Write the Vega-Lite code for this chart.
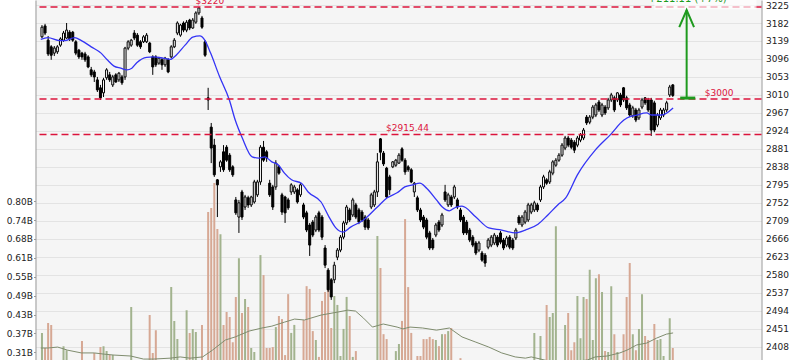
{
"$schema":"https://vega.github.io/schema/vega-lite/v6.json",
"width":726,"height":360,
"autosize":{"type":"none"},
"padding":{"left":35.5,"right":38.5,"top":0,"bottom":0},
"background":"#ffffff",
"config":{"view":{"fill":"#f5f5f5","stroke":null},"font":"DejaVu Sans","axis":{"labelFont":"DejaVu Sans","labelFontSize":9,"labelColor":"#222222","title":null,"labelOverlap":false}},
"datasets":{
"k":[
{"i":0,"o":3149,"h":3177,"l":3146,"c":3172,"v":0.370},
{"i":1,"o":3175,"h":3180,"l":3153,"c":3158,"v":0.321},
{"i":2,"o":3141,"h":3151,"l":3103,"c":3108,"v":0.402},
{"i":3,"o":3125,"h":3129,"l":3094,"c":3105,"v":0.396},
{"i":4,"o":3110,"h":3127,"l":3103,"c":3122,"v":0.26},
{"i":5,"o":3113,"h":3129,"l":3108,"c":3125,"v":0.26},
{"i":6,"o":3129,"h":3148,"l":3125,"c":3144,"v":0.26},
{"i":7,"o":3141,"h":3163,"l":3137,"c":3158,"v":0.327},
{"i":8,"o":3146,"h":3182,"l":3144,"c":3165,"v":0.314},
{"i":9,"o":3160,"h":3165,"l":3139,"c":3144,"v":0.26},
{"i":10,"o":3160,"h":3163,"l":3137,"c":3141,"v":0.26},
{"i":11,"o":3137,"h":3141,"l":3105,"c":3110,"v":0.26},
{"i":12,"o":3117,"h":3120,"l":3096,"c":3101,"v":0.26},
{"i":13,"o":3110,"h":3113,"l":3094,"c":3101,"v":0.344},
{"i":14,"o":3108,"h":3113,"l":3089,"c":3094,"v":0.26},
{"i":15,"o":3101,"h":3105,"l":3074,"c":3077,"v":0.26},
{"i":16,"o":3070,"h":3077,"l":3053,"c":3058,"v":0.26},
{"i":17,"o":3065,"h":3070,"l":3041,"c":3053,"v":0.305},
{"i":18,"o":3046,"h":3053,"l":3017,"c":3022,"v":0.26},
{"i":19,"o":3027,"h":3034,"l":2998,"c":3003,"v":0.324},
{"i":20,"o":3015,"h":3051,"l":3005,"c":3046,"v":0.327},
{"i":21,"o":3051,"h":3074,"l":3046,"c":3070,"v":0.311},
{"i":22,"o":3058,"h":3065,"l":3041,"c":3046,"v":0.298},
{"i":23,"o":3034,"h":3058,"l":3029,"c":3053,"v":0.298},
{"i":24,"o":3058,"h":3062,"l":3039,"c":3041,"v":0.26},
{"i":25,"o":3046,"h":3065,"l":3041,"c":3062,"v":0.26},
{"i":26,"o":3053,"h":3058,"l":3034,"c":3039,"v":0.26},
{"i":27,"o":3053,"h":3125,"l":3046,"c":3122,"v":0.26},
{"i":28,"o":3122,"h":3141,"l":3117,"c":3137,"v":0.26},
{"i":29,"o":3129,"h":3144,"l":3125,"c":3141,"v":0.454},
{"i":30,"o":3158,"h":3165,"l":3141,"c":3146,"v":0.26},
{"i":31,"o":3153,"h":3158,"l":3125,"c":3129,"v":0.26},
{"i":32,"o":3137,"h":3141,"l":3120,"c":3125,"v":0.26},
{"i":33,"o":3137,"h":3153,"l":3134,"c":3149,"v":0.26},
{"i":34,"o":3137,"h":3158,"l":3134,"c":3153,"v":0.26},
{"i":35,"o":3134,"h":3137,"l":3110,"c":3113,"v":0.428},
{"i":36,"o":3101,"h":3105,"l":3058,"c":3077,"v":0.305},
{"i":37,"o":3101,"h":3105,"l":3077,"c":3082,"v":0.379},
{"i":38,"o":3086,"h":3101,"l":3082,"c":3098,"v":0.26},
{"i":39,"o":3094,"h":3098,"l":3070,"c":3082,"v":0.26},
{"i":40,"o":3082,"h":3101,"l":3077,"c":3098,"v":0.26},
{"i":41,"o":3094,"h":3098,"l":3062,"c":3065,"v":0.26},
{"i":42,"o":3101,"h":3129,"l":3098,"c":3125,"v":0.519},
{"i":43,"o":3125,"h":3146,"l":3122,"c":3141,"v":0.409},
{"i":44,"o":3158,"h":3186,"l":3153,"c":3182,"v":0.350},
{"i":45,"o":3153,"h":3180,"l":3149,"c":3177,"v":0.26},
{"i":46,"o":3182,"h":3186,"l":3160,"c":3165,"v":0.26},
{"i":47,"o":3165,"h":3189,"l":3160,"c":3184,"v":0.444},
{"i":48,"o":3189,"h":3192,"l":3165,"c":3170,"v":0.370},
{"i":49,"o":3170,"h":3194,"l":3168,"c":3189,"v":0.383},
{"i":50,"o":3184,"h":3210,"l":3180,"c":3206,"v":0.373},
{"i":51,"o":3206,"h":3220,"l":3201,"c":3218,"v":0.26},
{"i":52,"o":3194,"h":3199,"l":3168,"c":3172,"v":0.396},
{"i":53,"o":3137,"h":3141,"l":3101,"c":3105,"v":0.26},
{"i":54,"o":3003,"h":3027,"l":2974,"c":2998,"v":0.763},
{"i":55,"o":2933,"h":2943,"l":2847,"c":2883,"v":0.776},
{"i":56,"o":2890,"h":2905,"l":2814,"c":2819,"v":0.857},
{"i":57,"o":2807,"h":2809,"l":2718,"c":2795,"v":0.708},
{"i":58,"o":2838,"h":2854,"l":2826,"c":2850,"v":0.691},
{"i":59,"o":2874,"h":2890,"l":2826,"c":2831,"v":0.396},
{"i":60,"o":2885,"h":2890,"l":2850,"c":2854,"v":0.438},
{"i":61,"o":2866,"h":2871,"l":2826,"c":2831,"v":0.422},
{"i":62,"o":2838,"h":2842,"l":2814,"c":2819,"v":0.340},
{"i":63,"o":2759,"h":2766,"l":2723,"c":2728,"v":0.487},
{"i":64,"o":2718,"h":2759,"l":2680,"c":2752,"v":0.613},
{"i":65,"o":2778,"h":2783,"l":2711,"c":2718,"v":0.435},
{"i":66,"o":2742,"h":2771,"l":2735,"c":2766,"v":0.480},
{"i":67,"o":2764,"h":2769,"l":2740,"c":2747,"v":0.454},
{"i":68,"o":2747,"h":2769,"l":2742,"c":2766,"v":0.321},
{"i":69,"o":2754,"h":2807,"l":2750,"c":2802,"v":0.308},
{"i":70,"o":2771,"h":2807,"l":2766,"c":2802,"v":0.26},
{"i":71,"o":2802,"h":2890,"l":2795,"c":2885,"v":0.623},
{"i":72,"o":2885,"h":2900,"l":2850,"c":2854,"v":0.558},
{"i":73,"o":2874,"h":2878,"l":2850,"c":2859,"v":0.321},
{"i":74,"o":2799,"h":2807,"l":2766,"c":2771,"v":0.321},
{"i":75,"o":2790,"h":2795,"l":2735,"c":2742,"v":0.324},
{"i":76,"o":2790,"h":2854,"l":2783,"c":2847,"v":0.389},
{"i":77,"o":2838,"h":2842,"l":2819,"c":2823,"v":0.425},
{"i":78,"o":2771,"h":2776,"l":2723,"c":2730,"v":0.415},
{"i":79,"o":2766,"h":2769,"l":2704,"c":2728,"v":0.298},
{"i":80,"o":2759,"h":2764,"l":2735,"c":2740,"v":0.496},
{"i":81,"o":2778,"h":2799,"l":2771,"c":2795,"v":0.370},
{"i":82,"o":2778,"h":2795,"l":2773,"c":2790,"v":0.396},
{"i":83,"o":2783,"h":2787,"l":2750,"c":2754,"v":0.26},
{"i":84,"o":2771,"h":2799,"l":2766,"c":2795,"v":0.26},
{"i":85,"o":2747,"h":2752,"l":2713,"c":2718,"v":0.412},
{"i":86,"o":2728,"h":2733,"l":2682,"c":2687,"v":0.522},
{"i":87,"o":2699,"h":2704,"l":2625,"c":2651,"v":0.513},
{"i":88,"o":2706,"h":2711,"l":2670,"c":2675,"v":0.376},
{"i":89,"o":2687,"h":2723,"l":2682,"c":2718,"v":0.347},
{"i":90,"o":2728,"h":2733,"l":2682,"c":2687,"v":0.292},
{"i":91,"o":2718,"h":2723,"l":2663,"c":2670,"v":0.474},
{"i":92,"o":2644,"h":2651,"l":2596,"c":2603,"v":0.503},
{"i":93,"o":2591,"h":2596,"l":2539,"c":2544,"v":0.565},
{"i":94,"o":2568,"h":2572,"l":2520,"c":2527,"v":0.386},
{"i":95,"o":2568,"h":2611,"l":2560,"c":2603,"v":0.490},
{"i":96,"o":2622,"h":2644,"l":2615,"c":2639,"v":0.461},
{"i":97,"o":2639,"h":2675,"l":2634,"c":2670,"v":0.295},
{"i":98,"o":2670,"h":2709,"l":2665,"c":2704,"v":0.383},
{"i":99,"o":2704,"h":2747,"l":2699,"c":2742,"v":0.487},
{"i":100,"o":2735,"h":2740,"l":2706,"c":2711,"v":0.425},
{"i":101,"o":2723,"h":2764,"l":2718,"c":2759,"v":0.292},
{"i":102,"o":2747,"h":2752,"l":2713,"c":2718,"v":0.311},
{"i":103,"o":2735,"h":2740,"l":2701,"c":2706,"v":0.26},
{"i":104,"o":2730,"h":2735,"l":2706,"c":2711,"v":0.26},
{"i":105,"o":2718,"h":2723,"l":2687,"c":2694,"v":0.26},
{"i":106,"o":2711,"h":2716,"l":2687,"c":2692,"v":0.26},
{"i":107,"o":2742,"h":2776,"l":2737,"c":2771,"v":0.26},
{"i":108,"o":2747,"h":2783,"l":2742,"c":2778,"v":0.26},
{"i":109,"o":2778,"h":2871,"l":2766,"c":2850,"v":0.685},
{"i":110,"o":2905,"h":2907,"l":2854,"c":2873,"v":0.581},
{"i":111,"o":2871,"h":2876,"l":2840,"c":2845,"v":0.366},
{"i":112,"o":2835,"h":2838,"l":2764,"c":2766,"v":0.350},
{"i":113,"o":2814,"h":2819,"l":2771,"c":2783,"v":0.26},
{"i":114,"o":2838,"h":2852,"l":2835,"c":2850,"v":0.26},
{"i":115,"o":2842,"h":2857,"l":2838,"c":2854,"v":0.311},
{"i":116,"o":2847,"h":2871,"l":2845,"c":2866,"v":0.334},
{"i":117,"o":2881,"h":2885,"l":2850,"c":2854,"v":0.409},
{"i":118,"o":2854,"h":2859,"l":2819,"c":2826,"v":0.740},
{"i":119,"o":2838,"h":2842,"l":2826,"c":2831,"v":0.519},
{"i":120,"o":2831,"h":2835,"l":2799,"c":2802,"v":0.370},
{"i":121,"o":2778,"h":2802,"l":2766,"c":2799,"v":0.26},
{"i":122,"o":2764,"h":2769,"l":2730,"c":2735,"v":0.295},
{"i":123,"o":2735,"h":2740,"l":2706,"c":2711,"v":0.295},
{"i":124,"o":2718,"h":2723,"l":2689,"c":2694,"v":0.350},
{"i":125,"o":2711,"h":2716,"l":2665,"c":2670,"v":0.350},
{"i":126,"o":2680,"h":2685,"l":2639,"c":2644,"v":0.357},
{"i":127,"o":2663,"h":2668,"l":2639,"c":2644,"v":0.350},
{"i":128,"o":2675,"h":2704,"l":2670,"c":2699,"v":0.347},
{"i":129,"o":2706,"h":2711,"l":2682,"c":2687,"v":0.327},
{"i":130,"o":2699,"h":2728,"l":2694,"c":2723,"v":0.366},
{"i":131,"o":2778,"h":2795,"l":2754,"c":2759,"v":0.366},
{"i":132,"o":2747,"h":2776,"l":2742,"c":2771,"v":0.376},
{"i":133,"o":2766,"h":2771,"l":2742,"c":2747,"v":0.386},
{"i":134,"o":2766,"h":2795,"l":2761,"c":2790,"v":0.26},
{"i":135,"o":2759,"h":2764,"l":2737,"c":2742,"v":0.26},
{"i":136,"o":2735,"h":2740,"l":2706,"c":2711,"v":0.288},
{"i":137,"o":2718,"h":2723,"l":2675,"c":2680,"v":0.26},
{"i":138,"o":2706,"h":2711,"l":2675,"c":2680,"v":0.26},
{"i":139,"o":2687,"h":2692,"l":2658,"c":2663,"v":0.26},
{"i":140,"o":2670,"h":2675,"l":2646,"c":2651,"v":0.26},
{"i":141,"o":2656,"h":2661,"l":2627,"c":2632,"v":0.26},
{"i":142,"o":2639,"h":2661,"l":2634,"c":2656,"v":0.26},
{"i":143,"o":2632,"h":2637,"l":2611,"c":2615,"v":0.26},
{"i":144,"o":2627,"h":2632,"l":2599,"c":2608,"v":0.26},
{"i":145,"o":2646,"h":2668,"l":2641,"c":2663,"v":0.26},
{"i":146,"o":2651,"h":2675,"l":2646,"c":2670,"v":0.26},
{"i":147,"o":2656,"h":2680,"l":2651,"c":2675,"v":0.26},
{"i":148,"o":2670,"h":2675,"l":2646,"c":2651,"v":0.26},
{"i":149,"o":2680,"h":2685,"l":2653,"c":2658,"v":0.26},
{"i":150,"o":2663,"h":2668,"l":2639,"c":2644,"v":0.26},
{"i":151,"o":2651,"h":2673,"l":2646,"c":2668,"v":0.26},
{"i":152,"o":2670,"h":2675,"l":2641,"c":2646,"v":0.26},
{"i":153,"o":2663,"h":2668,"l":2639,"c":2644,"v":0.26},
{"i":154,"o":2668,"h":2692,"l":2663,"c":2687,"v":0.26},
{"i":155,"o":2718,"h":2723,"l":2699,"c":2704,"v":0.26},
{"i":156,"o":2699,"h":2723,"l":2694,"c":2718,"v":0.26},
{"i":157,"o":2706,"h":2735,"l":2701,"c":2730,"v":0.26},
{"i":158,"o":2711,"h":2752,"l":2706,"c":2747,"v":0.26},
{"i":159,"o":2730,"h":2752,"l":2725,"c":2747,"v":0.26},
{"i":160,"o":2735,"h":2757,"l":2730,"c":2752,"v":0.370},
{"i":161,"o":2747,"h":2752,"l":2730,"c":2735,"v":0.26},
{"i":162,"o":2759,"h":2795,"l":2754,"c":2790,"v":0.360},
{"i":163,"o":2790,"h":2819,"l":2785,"c":2814,"v":0.26},
{"i":164,"o":2807,"h":2811,"l":2795,"c":2799,"v":0.461},
{"i":165,"o":2802,"h":2831,"l":2797,"c":2826,"v":0.422},
{"i":166,"o":2823,"h":2854,"l":2818,"c":2850,"v":0.435},
{"i":167,"o":2842,"h":2859,"l":2838,"c":2854,"v":0.717},
{"i":168,"o":2854,"h":2871,"l":2850,"c":2866,"v":0.26},
{"i":169,"o":2866,"h":2895,"l":2862,"c":2890,"v":0.26},
{"i":170,"o":2883,"h":2912,"l":2878,"c":2907,"v":0.396},
{"i":171,"o":2907,"h":2912,"l":2885,"c":2890,"v":0.435},
{"i":172,"o":2902,"h":2907,"l":2880,"c":2885,"v":0.314},
{"i":173,"o":2897,"h":2902,"l":2871,"c":2878,"v":0.340},
{"i":174,"o":2890,"h":2912,"l":2885,"c":2907,"v":0.490},
{"i":175,"o":2902,"h":2919,"l":2897,"c":2914,"v":0.353},
{"i":176,"o":2907,"h":2931,"l":2902,"c":2926,"v":0.487},
{"i":177,"o":2957,"h":2962,"l":2938,"c":2943,"v":0.480},
{"i":178,"o":2945,"h":2962,"l":2940,"c":2957,"v":0.575},
{"i":179,"o":2957,"h":2986,"l":2952,"c":2981,"v":0.347},
{"i":180,"o":2962,"h":2991,"l":2957,"c":2986,"v":0.548},
{"i":181,"o":2993,"h":2998,"l":2969,"c":2974,"v":0.561},
{"i":182,"o":2962,"h":2991,"l":2957,"c":2986,"v":0.503},
{"i":183,"o":2981,"h":2986,"l":2962,"c":2967,"v":0.311},
{"i":184,"o":2979,"h":3003,"l":2974,"c":2998,"v":0.308},
{"i":185,"o":2998,"h":3015,"l":2993,"c":3010,"v":0.522},
{"i":186,"o":3003,"h":3008,"l":2969,"c":2974,"v":0.366},
{"i":187,"o":2998,"h":3017,"l":2993,"c":3015,"v":0.308},
{"i":188,"o":3010,"h":3015,"l":2981,"c":2986,"v":0.26},
{"i":189,"o":3027,"h":3029,"l":2993,"c":2998,"v":0.366},
{"i":190,"o":3003,"h":3008,"l":2974,"c":2979,"v":0.487},
{"i":191,"o":2986,"h":2991,"l":2957,"c":2962,"v":0.597},
{"i":192,"o":2960,"h":2984,"l":2955,"c":2979,"v":0.366},
{"i":193,"o":2974,"h":2979,"l":2945,"c":2950,"v":0.314},
{"i":194,"o":2955,"h":2979,"l":2950,"c":2974,"v":0.383},
{"i":195,"o":2981,"h":3003,"l":2976,"c":2998,"v":0.496},
{"i":196,"o":3003,"h":3005,"l":2986,"c":2991,"v":0.360},
{"i":197,"o":2998,"h":3003,"l":2969,"c":2974,"v":0.347},
{"i":198,"o":2998,"h":3003,"l":2912,"c":2926,"v":0.26},
{"i":199,"o":2991,"h":2996,"l":2921,"c":2926,"v":0.399},
{"i":200,"o":2938,"h":2967,"l":2933,"c":2962,"v":0.347},
{"i":201,"o":2955,"h":2979,"l":2950,"c":2974,"v":0.350},
{"i":202,"o":2962,"h":2979,"l":2957,"c":2974,"v":0.295},
{"i":203,"o":2974,"h":2996,"l":2969,"c":2991,"v":0.26},
{"i":204,"o":3010,"h":3034,"l":3005,"c":3029,"v":0.418},
{"i":205,"o":3034,"h":3036,"l":3005,"c":3008.89,"v":0.321}
],
"ma":[
{"i":-0.4,"p":3143},{"i":1.9,"p":3147},{"i":5.8,"p":3140},{"i":7.4,"p":3140},{"i":10.6,"p":3147},{"i":12.8,"p":3140},{"i":16.0,"p":3125},{"i":19.2,"p":3110},{"i":21.2,"p":3094},{"i":23.4,"p":3079},{"i":25.6,"p":3074},{"i":27.6,"p":3070},{"i":29.2,"p":3074},{"i":30.8,"p":3087},{"i":34.0,"p":3100},{"i":36.2,"p":3101},{"i":39.4,"p":3098},{"i":41.7,"p":3095},{"i":43.6,"p":3105},{"i":46.5,"p":3129},{"i":49.0,"p":3148},{"i":51.3,"p":3151},{"i":52.9,"p":3141},{"i":54.8,"p":3110},{"i":57.7,"p":3054},{"i":60.9,"p":2998},{"i":62.8,"p":2950},{"i":65.1,"p":2907},{"i":68.3,"p":2862},{"i":70.5,"p":2859},{"i":72.4,"p":2862},{"i":74.7,"p":2850},{"i":76.9,"p":2842},{"i":78.8,"p":2823},{"i":81.1,"p":2807},{"i":84.3,"p":2799},{"i":86.5,"p":2778},{"i":90.7,"p":2754},{"i":93.3,"p":2718},{"i":95.5,"p":2692},{"i":97.8,"p":2682},{"i":100.3,"p":2694},{"i":104.5,"p":2711},{"i":109.0,"p":2742},{"i":112.2,"p":2764},{"i":115.4,"p":2776},{"i":117.9,"p":2790},{"i":120.5,"p":2795},{"i":122.8,"p":2799},{"i":125.0,"p":2787},{"i":128.2,"p":2759},{"i":130.1,"p":2742},{"i":132.4,"p":2733},{"i":134.6,"p":2742},{"i":136.5,"p":2744},{"i":141.0,"p":2718},{"i":145.2,"p":2692},{"i":149.4,"p":2687},{"i":153.8,"p":2680},{"i":157.1,"p":2687},{"i":161.2,"p":2701},{"i":164.4,"p":2723},{"i":167.6,"p":2747},{"i":170.2,"p":2764},{"i":174.0,"p":2819},{"i":179.8,"p":2878},{"i":184.6,"p":2914},{"i":189.1,"p":2950},{"i":190.1,"p":2955},{"i":193.3,"p":2962},{"i":196.5,"p":2967},{"i":198.1,"p":2962},{"i":201.3,"p":2962},{"i":205.1,"p":2979}
],
"vma":[
{"i":-0.4,"v":0.321},{"i":1.9,"v":0.321},{"i":5.1,"v":0.324},{"i":8.3,"v":0.314},{"i":12.8,"v":0.305},{"i":17.0,"v":0.305},{"i":20.2,"v":0.301},{"i":23.4,"v":0.298},{"i":28.8,"v":0.295},{"i":33.0,"v":0.285},{"i":36.2,"v":0.285},{"i":41.7,"v":0.288},{"i":44.9,"v":0.292},{"i":48.1,"v":0.288},{"i":52.2,"v":0.292},{"i":55.4,"v":0.314},{"i":59.6,"v":0.347},{"i":62.8,"v":0.357},{"i":67.3,"v":0.376},{"i":71.5,"v":0.386},{"i":74.7,"v":0.392},{"i":78.8,"v":0.405},{"i":82.1,"v":0.415},{"i":85.3,"v":0.412},{"i":90.7,"v":0.428},{"i":96.2,"v":0.438},{"i":99.4,"v":0.444},{"i":101.9,"v":0.441},{"i":104.5,"v":0.418},{"i":107.4,"v":0.389},{"i":110.9,"v":0.399},{"i":115.4,"v":0.389},{"i":117.3,"v":0.383},{"i":119.6,"v":0.389},{"i":123.7,"v":0.386},{"i":128.2,"v":0.379},{"i":132.4,"v":0.386},{"i":136.5,"v":0.357},{"i":141.0,"v":0.340},{"i":145.2,"v":0.324},{"i":149.4,"v":0.305},{"i":153.8,"v":0.292},{"i":157.1,"v":0.288},{"i":159.0,"v":0.292},{"i":167.6,"v":0.272},{"i":177.2,"v":0.282},{"i":179.8,"v":0.292},{"i":183.7,"v":0.295},{"i":187.8,"v":0.305},{"i":190.1,"v":0.314},{"i":193.3,"v":0.331},{"i":196.5,"v":0.337},{"i":199.7,"v":0.353},{"i":202.9,"v":0.366},{"i":205.1,"v":0.370}
],
"lv":[
{"i":49.9,"p":3220,"t":"$3220"},
{"i":215.4,"p":3000,"t":"$3000"},
{"i":111.8,"p":2915.44,"t":"$2915.44"}
],
"shaft":[{"i":209.5,"p":3003,"p2":3213}],
"cap":[{"i":207.4,"i2":212.3,"p":3002.5}],
"head":[{"i":207.1,"p":3172,"k":0},{"i":209.5,"p":3213,"k":1},{"i":211.9,"p":3172,"k":2}],
"pale":[{"i":199,"i2":232.2,"p":3214,"p2":3237}],
"gain":[{"i":209.7,"p":3220,"t":"+211.11 (+7%)"}]
},
"layer":[
{"data":{"name":"k"},
"mark":{"type":"bar","size":2,"clip":true},
"encoding":{
"x":{"field":"i","type":"quantitative","scale":{"domain":[-0.48,232.2],"nice":false,"zero":false},
"axis":{"orient":"bottom","values":[9.2,29.8,49.9,71.2,92.1,112.1,132.9,153.7,174.6,194.6,214.6],"grid":true,"gridColor":"#e3e3e3","labels":false,"ticks":false,"domain":false,"title":null}},
"y":{"field":"v","type":"quantitative","scale":{"domain":[0.282,1.452],"nice":false,"zero":false},
"axis":{"orient":"left","values":[0.307,0.3684,0.4298,0.4912,0.5526,0.614,0.6754,0.7368,0.7982],"labelExpr":"format(datum.value,'.2f')+'B'","grid":false,"domainColor":"#999999","tickColor":"#999999","tickSize":2,"labelPadding":1,"title":null}},
"color":{"condition":{"test":"datum.c >= datum.o","value":"#a2b38e"},"value":"#d6a894"}
}},
{"data":{"name":"vma"},
"mark":{"type":"line","stroke":"#7f8c6e","strokeWidth":1,"clip":true},
"encoding":{
"x":{"field":"i","type":"quantitative","scale":{"domain":[-0.48,232.2],"nice":false,"zero":false},"axis":null},
"y":{"field":"v","type":"quantitative","scale":{"domain":[0.282,1.452],"nice":false,"zero":false},"axis":null}
}},
{"data":{"name":"k"},
"mark":{"type":"rule","color":"#000000","strokeWidth":1,"clip":true},
"encoding":{
"x":{"field":"i","type":"quantitative","scale":{"domain":[-0.48,232.2],"nice":false,"zero":false},"axis":null},
"y":{"field":"l","type":"quantitative","scale":{"domain":[2376.2,3237],"nice":false,"zero":false},
"axis":{"orient":"right","values":[2408,2451,2494,2537,2580,2623,2666,2709,2752,2795,2838,2881,2924,2967,3010,3053,3096,3139,3182,3225],"format":"d","grid":true,"gridColor":"#e3e3e3","domainColor":"#999999","ticks":false,"labelPadding":4,"title":null}},
"y2":{"field":"h"}
}},
{"data":{"name":"k"},
"mark":{"type":"bar","size":2,"stroke":"#000000","strokeWidth":1,"clip":true},
"encoding":{
"x":{"field":"i","type":"quantitative","scale":{"domain":[-0.48,232.2],"nice":false,"zero":false},"axis":null},
"y":{"field":"o","type":"quantitative","scale":{"domain":[2376.2,3237],"nice":false,"zero":false},"axis":null},
"y2":{"field":"c"},
"fill":{"condition":{"test":"datum.c > datum.o","value":"#ffffff"},"value":"#000000"}
}},
{"data":{"name":"ma"},
"mark":{"type":"line","stroke":"#3434f5","strokeWidth":1.3,"interpolate":"monotone","clip":true},
"encoding":{
"x":{"field":"i","type":"quantitative","scale":{"domain":[-0.48,232.2],"nice":false,"zero":false},"axis":null},
"y":{"field":"p","type":"quantitative","scale":{"domain":[2376.2,3237],"nice":false,"zero":false},"axis":null}
}},
{"data":{"name":"lv"},
"mark":{"type":"rule","stroke":"#dc143c","strokeWidth":1.5,"strokeDash":[7,4]},
"encoding":{
"y":{"field":"p","type":"quantitative","scale":{"domain":[2376.2,3237],"nice":false,"zero":false},"axis":null}
}},
{"data":{"name":"pale"},
"mark":{"type":"rect","fill":"#ffffff","opacity":0.65},
"encoding":{
"x":{"field":"i","type":"quantitative","scale":{"domain":[-0.48,232.2],"nice":false,"zero":false},"axis":null},
"x2":{"field":"i2"},
"y":{"field":"p","type":"quantitative","scale":{"domain":[2376.2,3237],"nice":false,"zero":false},"axis":null},
"y2":{"field":"p2"}
}},
{"data":{"name":"lv"},
"mark":{"type":"text","align":"left","baseline":"alphabetic","dy":-3,"fontSize":9,"font":"DejaVu Sans","color":"#dc143c"},
"encoding":{
"x":{"field":"i","type":"quantitative","scale":{"domain":[-0.48,232.2],"nice":false,"zero":false},"axis":null},
"y":{"field":"p","type":"quantitative","scale":{"domain":[2376.2,3237],"nice":false,"zero":false},"axis":null},
"text":{"field":"t"}
}},
{"data":{"name":"shaft"},
"mark":{"type":"rule","stroke":"#1e9a1e","strokeWidth":2},
"encoding":{
"x":{"field":"i","type":"quantitative","scale":{"domain":[-0.48,232.2],"nice":false,"zero":false},"axis":null},
"y":{"field":"p","type":"quantitative","scale":{"domain":[2376.2,3237],"nice":false,"zero":false},"axis":null},
"y2":{"field":"p2"}
}},
{"data":{"name":"cap"},
"mark":{"type":"rule","stroke":"#1e9a1e","strokeWidth":3},
"encoding":{
"x":{"field":"i","type":"quantitative","scale":{"domain":[-0.48,232.2],"nice":false,"zero":false},"axis":null},
"x2":{"field":"i2"},
"y":{"field":"p","type":"quantitative","scale":{"domain":[2376.2,3237],"nice":false,"zero":false},"axis":null}
}},
{"data":{"name":"head"},
"mark":{"type":"line","stroke":"#1e9a1e","strokeWidth":2},
"encoding":{
"x":{"field":"i","type":"quantitative","scale":{"domain":[-0.48,232.2],"nice":false,"zero":false},"axis":null},
"y":{"field":"p","type":"quantitative","scale":{"domain":[2376.2,3237],"nice":false,"zero":false},"axis":null},
"order":{"field":"k","type":"quantitative"}
}},
{"data":{"name":"gain"},
"mark":{"type":"text","align":"center","baseline":"alphabetic","dy":-5,"fontSize":10,"font":"DejaVu Sans","color":"#1e9a1e"},
"encoding":{
"x":{"field":"i","type":"quantitative","scale":{"domain":[-0.48,232.2],"nice":false,"zero":false},"axis":null},
"y":{"field":"p","type":"quantitative","scale":{"domain":[2376.2,3237],"nice":false,"zero":false},"axis":null},
"text":{"field":"t"}
}}
],
"resolve":{"scale":{"y":"independent"},"axis":{"y":"independent"}}
}
